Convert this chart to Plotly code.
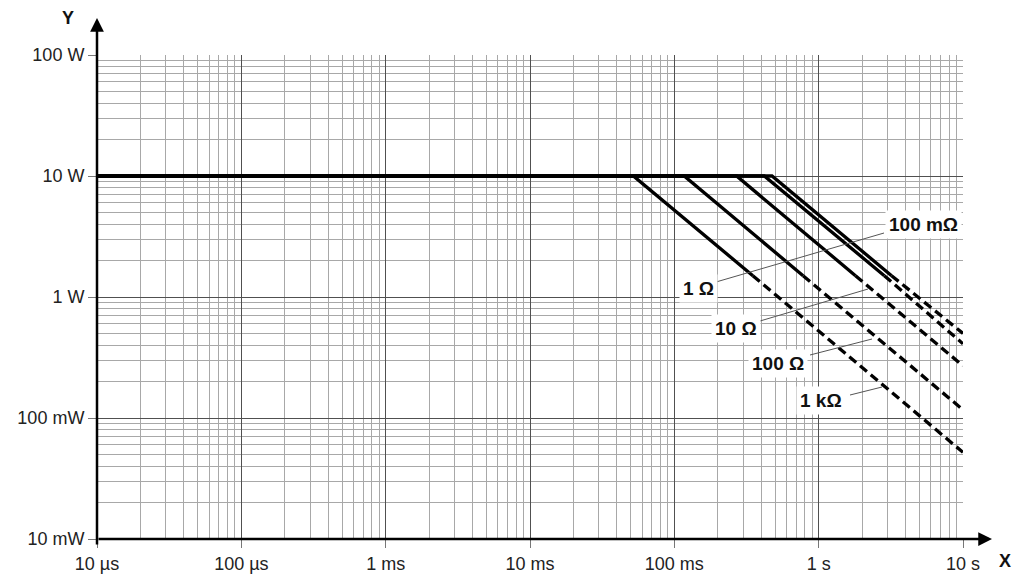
import plotly.graph_objects as go

# ---------------- data ----------------
resistances = ["100 mΩ", "1 Ω", "10 Ω", "100 Ω", "1 kΩ"]
p_max_W = 10.0
t_start_s = 1e-5
t_knee_s = [0.475, 0.42, 0.27, 0.117, 0.052]       # end of flat 10 W section
t_solid_end_s = [3.2, 2.85, 1.8, 0.78, 0.35]       # end of solid sloped segment
p_solid_end_W = [1.5, 1.5, 1.5, 1.5, 1.5]
t_end_s = 10.0
p_at_10s_W = [0.50, 0.41, 0.27, 0.117, 0.052]      # end of dashed extrapolation

x_tickvals = [1e-5, 1e-4, 1e-3, 1e-2, 1e-1, 1, 10]
x_ticktext = ["10 µs", "100 µs", "1 ms", "10 ms", "100 ms", "1 s", "10 s"]
y_tickvals = [0.01, 0.1, 1, 10, 100]
y_ticktext = ["10 mW", "100 mW", "1 W", "10 W", "100 W"]

# ---------------- layout geometry ----------------
W, H = 1017, 577
ML, MR, MT, MB = 97, 54, 55, 38
PW, PH = W - ML - MR, H - MT - MB


def px(x):
    return (x - ML) / PW


def py(y):
    return (H - MB - y) / PH


fig = go.Figure()

for i, name in enumerate(resistances):
    fig.add_trace(go.Scatter(
        x=[t_start_s, t_knee_s[i], t_solid_end_s[i]],
        y=[p_max_W, p_max_W, p_solid_end_W[i]],
        mode="lines", line=dict(color="black", width=3.3),
        name=name, showlegend=False, hoverinfo="skip"))
    fig.add_trace(go.Scatter(
        x=[t_solid_end_s[i], t_end_s],
        y=[p_solid_end_W[i], p_at_10s_W[i]],
        mode="lines", line=dict(color="black", width=3.3, dash="9px,5px"),
        name=name, showlegend=False, hoverinfo="skip"))

FONT = "Liberation Sans, Arial, sans-serif"

axis_common = dict(
    type="log", showline=False, zeroline=False, automargin=False,
    showgrid=True, gridcolor="#505050", gridwidth=1.4,
    ticks="outside", ticklen=8, tickcolor="#777", tickwidth=1,
    minor=dict(showgrid=True, gridcolor="#a8a8a8", gridwidth=1.3,
               dtick="D1", ticks=""),
    tickfont=dict(family=FONT, size=18, color="#222"),
)

fig.update_xaxes(range=[-5, 1], tickvals=x_tickvals, ticktext=x_ticktext,
                 **axis_common)
fig.update_yaxes(range=[-2, 2], tickvals=y_tickvals, ticktext=y_ticktext,
                 **axis_common)

annotations = []
# axis arrows
annotations.append(dict(xref="paper", yref="paper", x=0, y=py(18),
                        ax=0, ay=528, axref="pixel", ayref="pixel",
                        showarrow=True, arrowhead=2, arrowsize=1.1,
                        arrowwidth=2.5, arrowcolor="black", text=""))
annotations.append(dict(xref="paper", yref="paper", x=px(992), y=0,
                        ax=-(992 - ML), ay=0,
                        showarrow=True, arrowhead=2, arrowsize=1.1,
                        arrowwidth=2.5, arrowcolor="black", text=""))
annotations.append(dict(xref="paper", yref="paper", x=px(68), y=py(18),
                        xanchor="center", yanchor="middle",
                        text="<b>Y</b>", showarrow=False,
                        font=dict(family=FONT, size=18, color="#111")))
annotations.append(dict(xref="paper", yref="paper", x=px(1005), y=py(561),
                        xanchor="center", yanchor="middle",
                        text="<b>X</b>", showarrow=False,
                        font=dict(family=FONT, size=18, color="#111")))

# resistance labels
label_pos = {"100 mΩ": (923, 224), "1 Ω": (698, 288), "10 Ω": (736, 328),
             "100 Ω": (778, 363), "1 kΩ": (821, 400)}
for name in resistances:
    lx, ly = label_pos[name]
    annotations.append(dict(xref="paper", yref="paper", x=px(lx), y=py(ly),
                            xanchor="center", yanchor="middle",
                            text=f"<b>{name}</b>", showarrow=False,
                            bgcolor="white", borderpad=3,
                            font=dict(family=FONT, size=19, color="#111")))

shapes = []
leaders = [((716, 282), (884, 233)), ((760, 321), (868, 289)),
           ((810, 355), (872, 339)), ((850, 395), (882, 387))]
for (x0, y0), (x1, y1) in leaders:
    shapes.append(dict(type="line", xref="paper", yref="paper",
                       x0=px(x0), y0=py(y0), x1=px(x1), y1=py(y1),
                       line=dict(color="#555", width=1)))

fig.update_layout(
    width=W, height=H,
    margin=dict(l=ML, r=MR, t=MT, b=MB, pad=0),
    paper_bgcolor="white", plot_bgcolor="white",
    annotations=annotations, shapes=shapes,
    showlegend=False,
)

fig.write_html("out.html")
